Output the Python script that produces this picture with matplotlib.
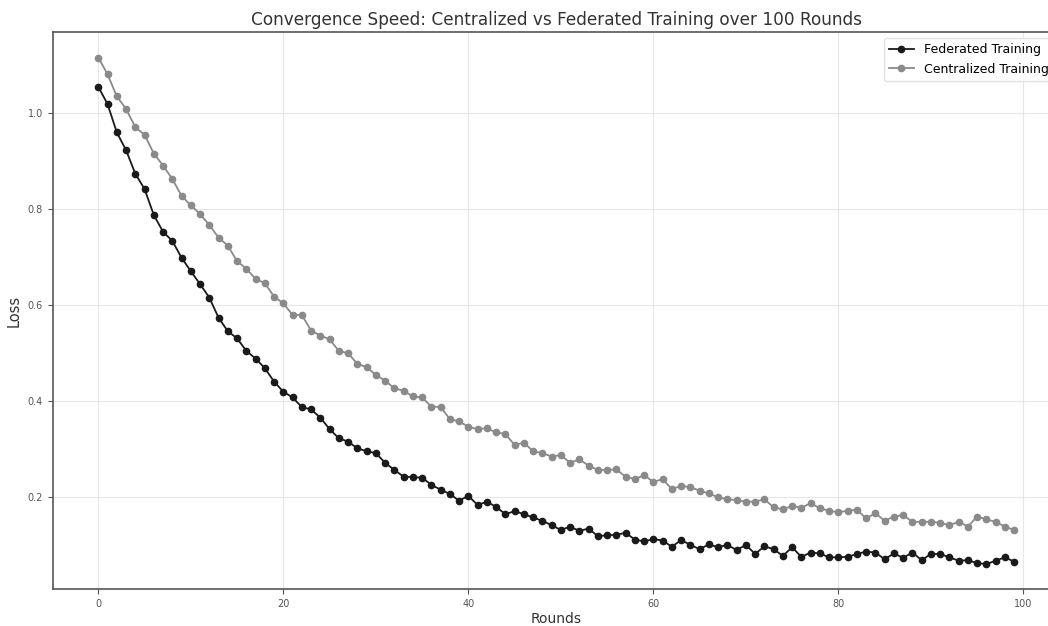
import matplotlib
matplotlib.use("Agg")
import matplotlib.pyplot as plt

rounds = list(range(100))

federated = [
    1.055, 1.019, 0.960, 0.923, 0.874, 0.842, 0.788, 0.753, 0.734, 0.699,
    0.671, 0.644, 0.616, 0.574, 0.546, 0.531, 0.505, 0.489, 0.469, 0.441,
    0.420, 0.408, 0.388, 0.383, 0.366, 0.342, 0.323, 0.316, 0.302, 0.296,
    0.292, 0.272, 0.257, 0.243, 0.242, 0.241, 0.226, 0.216, 0.207, 0.193,
    0.203, 0.184, 0.191, 0.180, 0.165, 0.171, 0.165, 0.158, 0.151, 0.142,
    0.132, 0.139, 0.130, 0.135, 0.119, 0.121, 0.122, 0.126, 0.112, 0.108,
    0.113, 0.110, 0.097, 0.111, 0.101, 0.092, 0.102, 0.096, 0.101, 0.090,
    0.101, 0.082, 0.098, 0.092, 0.078, 0.096, 0.076, 0.085, 0.083, 0.075,
    0.075, 0.076, 0.082, 0.087, 0.085, 0.071, 0.083, 0.074, 0.085, 0.069,
    0.082, 0.082, 0.075, 0.068, 0.069, 0.063, 0.061, 0.068, 0.075, 0.066,
]

centralized = [
    1.116, 1.081, 1.035, 1.009, 0.971, 0.955, 0.916, 0.891, 0.863, 0.828,
    0.808, 0.790, 0.767, 0.741, 0.724, 0.692, 0.676, 0.655, 0.646, 0.618,
    0.604, 0.580, 0.580, 0.547, 0.537, 0.529, 0.505, 0.500, 0.478, 0.471,
    0.455, 0.443, 0.427, 0.422, 0.410, 0.408, 0.389, 0.388, 0.363, 0.358,
    0.347, 0.342, 0.344, 0.335, 0.332, 0.309, 0.314, 0.296, 0.292, 0.285,
    0.288, 0.272, 0.279, 0.266, 0.257, 0.257, 0.258, 0.243, 0.238, 0.246,
    0.232, 0.238, 0.217, 0.224, 0.221, 0.214, 0.208, 0.200, 0.196, 0.194,
    0.191, 0.191, 0.196, 0.179, 0.175, 0.182, 0.178, 0.188, 0.177, 0.172,
    0.169, 0.172, 0.174, 0.156, 0.167, 0.151, 0.160, 0.163, 0.149, 0.149,
    0.149, 0.147, 0.142, 0.149, 0.139, 0.160, 0.154, 0.149, 0.139, 0.132,
]

fig = plt.figure(figsize=(10.48, 6.26), dpi=100)
ax = fig.add_axes([0.0501, 0.0585, 0.9613, 0.8901])

ax.plot(rounds, federated, color="#1a1a1a", marker="o", markersize=4.5,
        linewidth=1.3, label="Federated Training")
ax.plot(rounds, centralized, color="#8a8a8a", marker="o", markersize=4.5,
        linewidth=1.3, label="Centralized Training")

ax.set_title("Convergence Speed: Centralized vs Federated Training over 100 Rounds",
             fontsize=12.2, color="#333333", pad=5)
ax.set_xlabel("Rounds", fontsize=10, color="#333333", labelpad=2)
ax.set_ylabel("Loss", fontsize=10.5, color="#333333")
ax.tick_params(axis="both", labelsize=7, colors="#555555")
ax.set_yticks([0.2, 0.4, 0.6, 0.8, 1.0])
ax.set_xticks([0, 20, 40, 60, 80, 100])
ax.grid(True, color="#dddddd", linewidth=0.8, alpha=0.7)
for s in ax.spines.values():
    s.set_color("#555555")
    s.set_linewidth(1.2)
ax.legend(loc="upper right", fontsize=9, framealpha=0.8, edgecolor="#dddddd")

fig.savefig("out.png", dpi=100)
